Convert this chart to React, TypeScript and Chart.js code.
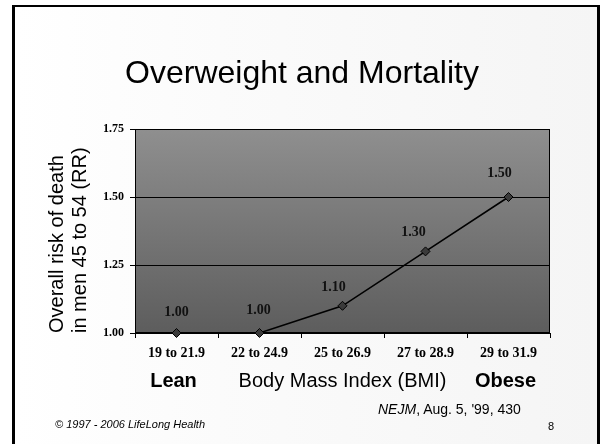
import React, { useEffect, useRef } from "react";
import { Chart, registerables } from "chart.js";

Chart.register(...registerables);

// ---- data ----
const categories = ["19 to 21.9", "22 to 24.9", "25 to 26.9", "27 to 28.9", "29 to 31.9"];
const riskValues = [1.0, 1.0, 1.1, 1.3, 1.5];
const yMin = 1.0;
const yMax = 1.75;
const yStep = 0.25;
const groupLabels = ["Lean", "", "", "", "Obese"];
const xAxisTitle = "Body Mass Index (BMI)";
const yAxisTitle = ["Overall risk of death", "in men 45 to 54 (RR)"];
const slideTitle = "Overweight and Mortality";

// label placement (style only: pixel nudges relative to each point)
const labelNudgeX = [0, -1, -9, -12, -9];
const labelNudgeY = [-21, -23, -18, -19, -24];

const SANS = '"Liberation Sans", Arial, sans-serif';
const SERIF = '"Liberation Serif", "Times New Roman", serif';

const plotBackground = {
  id: "plotBackground",
  beforeDraw(chart: any) {
    const { ctx, chartArea: a } = chart;
    const g = ctx.createLinearGradient(0, a.top, 0, a.bottom);
    g.addColorStop(0, "#8f8f8f");
    g.addColorStop(1, "#5d5d5d");
    ctx.save();
    ctx.fillStyle = g;
    ctx.fillRect(a.left, a.top, a.right - a.left, a.bottom - a.top);
    ctx.restore();
  },
  beforeDatasetsDraw(chart: any) {
    const { ctx, chartArea: a } = chart;
    ctx.save();
    ctx.strokeStyle = "#000";
    ctx.lineWidth = 1;
    ctx.strokeRect(Math.round(a.left) + 0.5, Math.round(a.top) + 0.5, Math.round(a.right - a.left) - 1, Math.round(a.bottom - a.top) - 1);
    ctx.restore();
  },
};

const valueLabels = {
  id: "valueLabels",
  afterDatasetsDraw(chart: any) {
    const { ctx } = chart;
    const meta = chart.getDatasetMeta(0);
    ctx.save();
    ctx.font = `bold 14px ${SERIF}`;
    ctx.fillStyle = "#111";
    ctx.textAlign = "center";
    ctx.textBaseline = "middle";
    meta.data.forEach((pt: any, i: number) => {
      ctx.fillText(riskValues[i].toFixed(2), pt.x + labelNudgeX[i], pt.y + labelNudgeY[i]);
    });
    ctx.restore();
  },
};

const groupLabelPlugin = {
  id: "groupLabels",
  afterDraw(chart: any) {
    const { ctx, chartArea: a } = chart;
    const xs = chart.scales.x;
    ctx.save();
    ctx.font = `bold 20px ${SANS}`;
    ctx.fillStyle = "#000";
    ctx.textAlign = "center";
    ctx.textBaseline = "middle";
    groupLabels.forEach((t, i) => {
      if (!t) return;
      ctx.fillText(t, xs.getPixelForValue(i) - 3, a.bottom + 48);
    });
    ctx.restore();
  },
};

function ChartCanvas() {
  const ref = useRef<HTMLCanvasElement | null>(null);
  useEffect(() => {
    if (!ref.current) return;
    const chart = new Chart(ref.current, {
      type: "line",
      data: {
        labels: categories,
        datasets: [
          {
            data: riskValues,
            borderColor: "#000",
            borderWidth: 1.6,
            tension: 0,
            pointStyle: "rectRot",
            pointRadius: 4.5,
            pointBackgroundColor: "#3a3a3a",
            pointBorderColor: "#000",
            pointBorderWidth: 1,
            clip: false as any,
          },
        ],
      },
      options: {
        responsive: false,
        devicePixelRatio: 1,
        animation: false,
        layout: { padding: { left: 40, right: 52, top: 129, bottom: 41 } },
        plugins: {
          legend: { display: false },
          tooltip: { enabled: false },
          title: { display: false },
        },
        scales: {
          x: {
            type: "category",
            offset: true,
            afterFit: (s: any) => {
              s.height = 70;
            },
            grid: {
              offset: true,
              drawOnChartArea: false,
              drawTicks: true,
              tickLength: 5,
              color: "#000",
            },
            border: { display: true, color: "#000", width: 1 },
            ticks: {
              color: "#000",
              font: { family: SERIF, size: 14, weight: "bold" },
              padding: 7,
              maxRotation: 0,
              autoSkip: false,
            },
            title: {
              display: true,
              text: xAxisTitle,
              color: "#000",
              font: { family: SANS, size: 20, lineHeight: 1.2 },
              padding: { top: 0, bottom: 10 },
            },
          },
          y: {
            min: yMin,
            max: yMax,
            afterFit: (s: any) => {
              s.width = 95;
            },
            grid: { color: "#000", lineWidth: 1, tickLength: 5, drawTicks: true },
            border: { display: true, color: "#000", width: 1 },
            ticks: {
              stepSize: yStep,
              color: "#000",
              font: { family: SERIF, size: 12, weight: "bold" },
              padding: 6,
              callback: (v: any) => Number(v).toFixed(2),
            },
            title: {
              display: true,
              text: yAxisTitle,
              align: "start",
              color: "#000",
              font: { family: SANS, size: 20, lineHeight: 1.15 },
              padding: { top: 6, bottom: 0 },
            },
          },
        },
      },
      plugins: [plotBackground, valueLabels, groupLabelPlugin],
    } as any);
    return () => chart.destroy();
  }, []);
  return (
    <canvas
      ref={ref}
      width={602}
      height={444}
      style={{ position: "absolute", left: 0, top: 0, width: 602, height: 444 }}
    />
  );
}

export default function App() {
  return (
    <div
      style={{
        position: "absolute",
        left: 0,
        top: 0,
        width: 602,
        height: 444,
        overflow: "hidden",
        background: "#fff",
        fontFamily: SANS,
      }}
    >
      <div
        style={{
          position: "absolute",
          left: 12,
          top: 5,
          width: 588,
          height: 480,
          boxSizing: "border-box",
          borderLeft: "3px solid #000",
          borderRight: "3px solid #000",
          borderTop: "2px solid #000",
          background: "linear-gradient(to right, #ffffff 0%, #fbfbfb 35%, #f5f5f5 100%)",
        }}
      />
      <ChartCanvas />
      <div
        style={{
          position: "absolute",
          left: 0,
          top: 56,
          width: 604,
          textAlign: "center",
          fontSize: 32,
          lineHeight: "32px",
          color: "#000",
          whiteSpace: "nowrap",
        }}
      >
        {slideTitle}
      </div>
      <div
        style={{
          position: "absolute",
          left: 378,
          top: 402,
          fontSize: 14,
          lineHeight: "14px",
          color: "#000",
          whiteSpace: "nowrap",
        }}
      >
        <i>NEJM</i>, Aug. 5, '99, 430
      </div>
      <div
        style={{
          position: "absolute",
          left: 55,
          top: 419,
          fontSize: 11,
          lineHeight: "11px",
          fontStyle: "italic",
          color: "#000",
          whiteSpace: "nowrap",
        }}
      >
        © 1997 - 2006 LifeLong Health
      </div>
      <div
        style={{
          position: "absolute",
          left: 548,
          top: 421,
          fontSize: 11,
          lineHeight: "11px",
          color: "#000",
        }}
      >
        8
      </div>
    </div>
  );
}
